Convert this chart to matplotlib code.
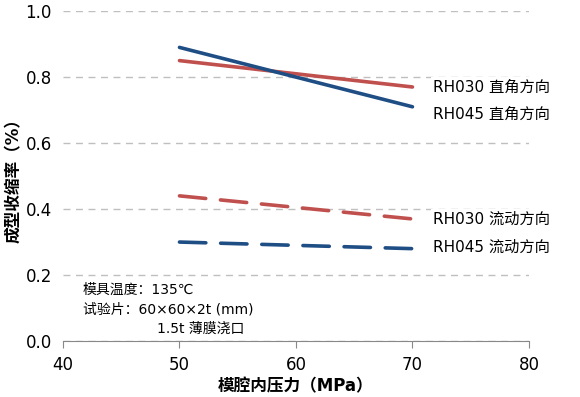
import matplotlib
matplotlib.use("Agg")
import matplotlib.pyplot as plt

plt.rcParams['font.family'] = ['DejaVu Sans', 'Noto Sans CJK SC']

pressure = [50, 70]
rh030_perp = [0.85, 0.77]
rh045_perp = [0.89, 0.71]
rh030_flow = [0.44, 0.37]
rh045_flow = [0.30, 0.28]
labels = ["RH030 直角方向", "RH045 直角方向", "RH030 流动方向", "RH045 流动方向"]
label_y = [0.77, 0.688, 0.37, 0.283]

red = "#c0504d"
blue = "#1f4e85"

fig = plt.figure(figsize=(5.8, 3.97), dpi=100)
ax = fig.add_axes([0.1086, 0.141, 0.8034, 0.831])

ax.plot(pressure, rh030_perp, color=red, lw=2.6, solid_capstyle="round")
ax.plot(pressure, rh045_perp, color=blue, lw=2.6, solid_capstyle="round")
ax.plot(pressure, rh030_flow, color=red, lw=2.6, dashes=(7.3, 4.1), dash_capstyle="round")
ax.plot(pressure, rh045_flow, color=blue, lw=2.6, dashes=(7.3, 4.1), dash_capstyle="round")

for lab, yy in zip(labels, label_y):
    ax.text(71.8, yy, lab, fontsize=11, va="center", ha="left",
            bbox=dict(facecolor="white", edgecolor="none", pad=1.5), zorder=5)

ax.text(41.7, 0.155, "模具温度：135℃", fontsize=10, va="center")
ax.text(41.7, 0.095, "试验片：60×60×2t (mm)", fontsize=10, va="center")
ax.text(48.1, 0.036, "1.5t 薄膜浇口", fontsize=10, va="center")

ax.set_xlim(40, 80)
ax.set_ylim(0, 1.0)
ax.set_xticks([40, 50, 60, 70, 80])
ax.set_yticks([0.0, 0.2, 0.4, 0.6, 0.8, 1.0])
ax.set_yticklabels(["0.0", "0.2", "0.4", "0.6", "0.8", "1.0"])
ax.yaxis.grid(True, color="#bfbfbf", linestyle=(0, (5, 4)), lw=1)
ax.set_axisbelow(True)
ax.tick_params(axis="y", length=0, labelsize=12, pad=8)
ax.tick_params(axis="x", length=5, color="#888888", labelsize=12, pad=6)
for s in ["left", "right", "top"]:
    ax.spines[s].set_visible(False)
ax.spines["bottom"].set_color("#888888")

ax.set_xlabel("模腔内压力（MPa）", fontsize=12, fontweight="bold", labelpad=2)
ax.set_ylabel("成型收缩率（%）", fontsize=12, fontweight="bold", labelpad=2)

fig.savefig("out.png", dpi=100)
